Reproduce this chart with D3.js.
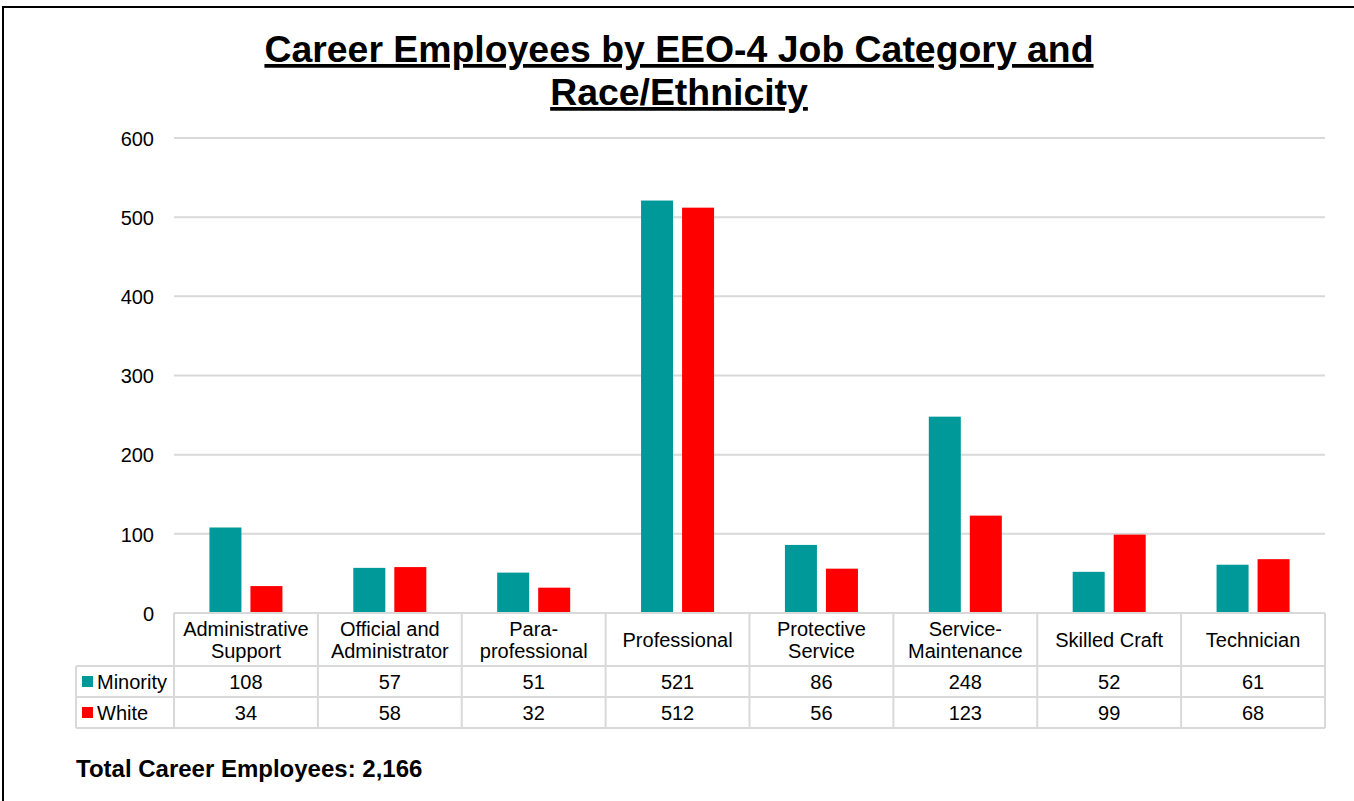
<!DOCTYPE html>
<html>
<head>
<meta charset="utf-8">
<script src="https://cdn.jsdelivr.net/npm/d3@7"></script>
<style>
  html, body { margin: 0; padding: 0; background: #fff; }
  svg { display: block; font-family: Arial, "Liberation Sans", sans-serif; }
</style>
</head>
<body>
<svg id="chart" width="1354" height="801"></svg>
<script>
// Job categories (line breaks mark where the table header wraps)
const categories = [
  "Administrative\nSupport",
  "Official and\nAdministrator",
  "Para-\nprofessional",
  "Professional",
  "Protective\nService",
  "Service-\nMaintenance",
  "Skilled Craft",
  "Technician"
];
const seriesNames = ["Minority", "White"];
const minority = [108, 57, 51, 521, 86, 248, 52, 61];
const white = [34, 58, 32, 512, 56, 123, 99, 68];
const yTicks = [0, 100, 200, 300, 400, 500, 600];
const titleLines = ["Career Employees by EEO-4 Job Category and", "Race/Ethnicity"];
const seriesColors = ["#009999", "#ff0000"];

const seriesValues = [minority, white];
const total = d3.sum(minority) + d3.sum(white);

const svg = d3.select("#chart");
const gridColor = "#d9d9d9";

// outer frame
svg.append("rect")
  .attr("x", 3).attr("y", 7)
  .attr("width", 1400).attr("height", 900)
  .attr("fill", "none").attr("stroke", "#000").attr("stroke-width", 2);

// title
const title = svg.append("g");
titleLines.forEach((t, i) => {
  title.append("text")
    .attr("x", 679).attr("y", 62 + i * 43)
    .attr("text-anchor", "middle")
    .attr("font-size", 37.4).attr("font-weight", "bold")
    .attr("text-decoration", "underline")
    .attr("fill", "#000")
    .text(t);
});

// scales
const plotLeft = 174, plotRight = 1325, plotTop = 138, plotBottom = 613;
const x = d3.scaleBand().domain(categories).range([plotLeft, plotRight]).paddingInner(0).paddingOuter(0);
const xs = d3.scaleBand().domain(seriesNames).range([0, x.bandwidth()]).paddingInner(9 / 41).paddingOuter(0.864);
const y = d3.scaleLinear().domain([0, 600]).range([plotBottom, plotTop]);

// gridlines
svg.append("g")
  .selectAll("line")
  .data(yTicks.filter(d => d > 0))
  .join("line")
  .attr("x1", plotLeft).attr("x2", plotRight)
  .attr("y1", d => y(d)).attr("y2", d => y(d))
  .attr("stroke", gridColor).attr("stroke-width", 2);

// y axis labels
const yAxis = d3.axisLeft(y).tickValues(yTicks).tickSize(0).tickPadding(0);
const yg = svg.append("g").attr("transform", `translate(154,0)`).call(yAxis);
yg.select(".domain").remove();
yg.selectAll("text")
  .attr("font-size", 20).attr("font-family", "Arial, 'Liberation Sans', sans-serif")
  .attr("fill", "#000").attr("dy", "0.36em");

// bars
seriesNames.forEach((s, si) => {
  svg.append("g")
    .selectAll("rect")
    .data(categories.map((c, i) => ({ c, v: seriesValues[si][i] })))
    .join("rect")
    .attr("x", d => x(d.c) + xs(s))
    .attr("width", xs.bandwidth())
    .attr("y", d => y(d.v))
    .attr("height", d => y(0) - y(d.v))
    .attr("fill", seriesColors[si]);
});

// data table
const headerBottom = 666, rowH = 31;
const tableLeft = 76;
const rowTops = [headerBottom, headerBottom + rowH];
const tableBottom = headerBottom + 2 * rowH;
const t = svg.append("g").attr("stroke", gridColor).attr("stroke-width", 2);
// horizontal lines
t.append("line").attr("x1", plotLeft).attr("x2", plotRight).attr("y1", plotBottom).attr("y2", plotBottom);
[headerBottom, headerBottom + rowH, tableBottom].forEach(yy => {
  t.append("line").attr("x1", tableLeft).attr("x2", plotRight).attr("y1", yy).attr("y2", yy);
});
// vertical lines
t.append("line").attr("x1", tableLeft).attr("x2", tableLeft).attr("y1", headerBottom).attr("y2", tableBottom);
categories.forEach(c => {
  t.append("line").attr("x1", x(c)).attr("x2", x(c)).attr("y1", plotBottom).attr("y2", tableBottom);
});
t.append("line").attr("x1", plotRight).attr("x2", plotRight).attr("y1", plotBottom).attr("y2", tableBottom);

// category headers
const headerMid = (plotBottom + headerBottom) / 2;
categories.forEach(c => {
  const lines = c.split("\n");
  const txt = svg.append("text")
    .attr("text-anchor", "middle")
    .attr("font-size", 20).attr("fill", "#000");
  lines.forEach((ln, li) => {
    txt.append("tspan")
      .attr("x", x(c) + x.bandwidth() / 2)
      .attr("y", headerMid + (li - (lines.length - 1) / 2) * 22 + 7)
      .text(ln);
  });
});

// series rows: legend key, name, values
seriesNames.forEach((s, si) => {
  const mid = rowTops[si] + rowH / 2;
  svg.append("rect")
    .attr("x", 82).attr("y", mid - 5.5)
    .attr("width", 11).attr("height", 11)
    .attr("fill", seriesColors[si]);
  svg.append("text")
    .attr("x", 97).attr("y", mid + 7)
    .attr("font-size", 20).attr("fill", "#000")
    .text(s);
  svg.append("g")
    .selectAll("text")
    .data(categories.map((c, i) => ({ c, v: seriesValues[si][i] })))
    .join("text")
    .attr("x", d => x(d.c) + x.bandwidth() / 2)
    .attr("y", mid + 7)
    .attr("text-anchor", "middle")
    .attr("font-size", 20).attr("fill", "#000")
    .text(d => d.v);
});

// footer total
svg.append("text")
  .attr("x", 76).attr("y", 777)
  .attr("font-size", 24).attr("font-weight", "bold").attr("fill", "#000")
  .text("Total Career Employees: " + d3.format(",")(total));
</script>
</body>
</html>
